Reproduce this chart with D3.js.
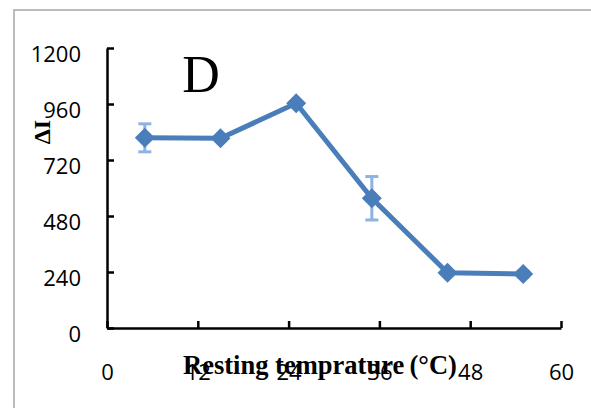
<!DOCTYPE html>
<html>
<head>
<meta charset="utf-8">
<script src="https://cdn.jsdelivr.net/npm/d3@7"></script>
<style>
  html, body { margin: 0; padding: 0; background: #fff; }
  svg { display: block; }
</style>
</head>
<body>
<svg id="chart" width="591" height="408"></svg>
<script>
// Resting temperature (°C) and the measured ΔI with its error
const temperatures = [5, 15, 25, 35, 45, 55];
const deltaI = [815, 813, 963, 556, 237, 231];
const errors = [60, 6, 8, 93, 6, 12];
const xTicks = [0, 12, 24, 36, 48, 60];
const yTicks = [0, 240, 480, 720, 960, 1200];

const svg = d3.select("#chart");

// outer frame of the chart area
svg.append("rect")
  .attr("x", 14).attr("y", 10)
  .attr("width", 600).attr("height", 420)
  .attr("fill", "none")
  .attr("stroke", "#a6a6a6")
  .attr("stroke-width", 1.5);

const x = d3.scaleLinear().domain([0, 60]).range([107, 561]);
const y = d3.scaleLinear().domain([0, 1200]).range([328, 48]);

const tickFont = "'Open Sans', sans-serif";

// y axis, ticks pointing inward
const gy = svg.append("g")
  .attr("transform", `translate(${x(0)},0)`)
  .call(d3.axisLeft(y).tickValues(yTicks).tickFormat(d3.format("d"))
    .tickSizeInner(-7).tickSizeOuter(0).tickPadding(26));
gy.select(".domain").attr("stroke", "#000").attr("stroke-width", 2.5);
gy.selectAll(".tick line").attr("stroke", "#000").attr("stroke-width", 2.5);
gy.selectAll(".tick text")
  .style("font-family", tickFont)
  .style("font-size", "22px")
  .attr("fill", "#000")
  .attr("dy", "0.6em");

// x axis, ticks pointing inward
const gx = svg.append("g")
  .attr("transform", `translate(0,${y(0)})`)
  .call(d3.axisBottom(x).tickValues(xTicks).tickFormat(d3.format("d"))
    .tickSizeInner(-7).tickSizeOuter(0).tickPadding(0));
gx.select(".domain").attr("stroke", "#000").attr("stroke-width", 2.5);
gx.selectAll(".tick line").attr("stroke", "#000").attr("stroke-width", 2.5);
gx.selectAll(".tick text")
  .style("font-family", tickFont)
  .style("font-size", "22px")
  .attr("fill", "#000")
  .attr("y", 44)
  .attr("dy", "0.35em");

// x axis title, sized to span from x=183 to x=457
const xTitle = svg.append("text")
  .attr("x", 320).attr("y", 374)
  .attr("text-anchor", "middle")
  .style("font-family", "'Liberation Serif', 'Times New Roman', serif")
  .style("font-weight", "bold")
  .style("font-size", "25px")
  .attr("fill", "#000")
  .text("Resting temprature\u2009(°C)");
const w0 = xTitle.node().getComputedTextLength();
xTitle.style("font-size", (25 * 274 / w0).toFixed(2) + "px");

// y axis title
svg.append("text")
  .attr("transform", "translate(50,132) rotate(-90)")
  .attr("text-anchor", "middle")
  .style("font-family", "'Liberation Serif', 'Times New Roman', serif")
  .style("font-weight", "bold")
  .style("font-size", "24px")
  .attr("fill", "#000")
  .text("ΔI");

// panel letter
svg.append("text")
  .attr("x", 201).attr("y", 92)
  .attr("text-anchor", "middle")
  .style("font-family", "'Liberation Serif', 'Times New Roman', serif")
  .style("font-size", "52px")
  .attr("fill", "#000")
  .text("D");

const data = temperatures.map((t, i) => ({ t, v: deltaI[i], e: errors[i] }));

// error bars
const eb = svg.append("g").attr("stroke", "#8db3e2").attr("stroke-width", 3);
data.forEach(d => {
  const cx = x(d.t);
  eb.append("line").attr("x1", cx).attr("x2", cx).attr("y1", y(d.v + d.e)).attr("y2", y(d.v - d.e));
  eb.append("line").attr("x1", cx - 6.5).attr("x2", cx + 6.5).attr("y1", y(d.v + d.e)).attr("y2", y(d.v + d.e));
  eb.append("line").attr("x1", cx - 6.5).attr("x2", cx + 6.5).attr("y1", y(d.v - d.e)).attr("y2", y(d.v - d.e));
});

// series line
svg.append("path")
  .datum(data)
  .attr("fill", "none")
  .attr("stroke", "#4a7ebb")
  .attr("stroke-width", 5)
  .attr("stroke-linejoin", "round")
  .attr("d", d3.line().x(d => x(d.t)).y(d => y(d.v)));

// diamond markers
svg.append("g").selectAll("path")
  .data(data)
  .join("path")
  .attr("transform", d => `translate(${x(d.t)},${y(d.v)})`)
  .attr("d", "M0,-10L10,0L0,10L-10,0Z")
  .attr("fill", "#4a7ebb");
</script>
</body>
</html>
